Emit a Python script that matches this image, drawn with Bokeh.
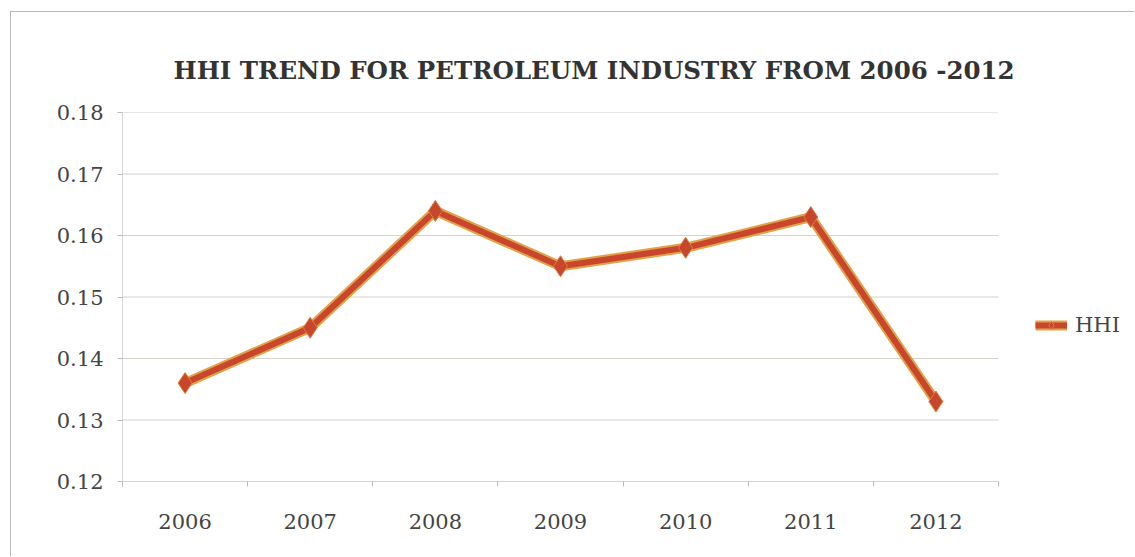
from bokeh.plotting import figure
from bokeh.models import FixedTicker, Range1d, Legend, LegendItem
from bokeh.embed import file_html
from bokeh.resources import INLINE

years = ["2006", "2007", "2008", "2009", "2010", "2011", "2012"]
hhi = [0.136, 0.145, 0.164, 0.155, 0.158, 0.163, 0.133]
y_ticks = [0.12, 0.13, 0.14, 0.15, 0.16, 0.17, 0.18]
title_text = "HHI TREND FOR PETROLEUM INDUSTRY FROM 2006 -2012"
series_name = "HHI"

xs = list(range(1, len(years) + 1))
FONT = "DejaVu Serif"

# plot area spans the category bands; the canvas extends to the right for the legend
x_lo, x_hi = 0.5, len(years) + 0.5
band_px = 876 / len(years)
x_view_end = x_hi + 137 / band_px

p = figure(width=1124, height=545, output_backend="svg", toolbar_location=None,
           x_range=Range1d(x_lo, x_view_end), y_range=Range1d(0.12, 0.18),
           min_border_left=111, min_border_right=0, min_border_top=100, min_border_bottom=76)
p.styles = {"margin-left": "10px", "margin-top": "11px",
            "border-left": "1px solid #b8b8b8", "border-top": "1px solid #b8b8b8"}
p.outline_line_color = None

p.title.text = title_text
p.title.text_font = FONT
p.title.text_font_size = "24.5px"
p.title.text_font_style = "bold"
p.title.text_color = "#333333"
p.title.align = "left"
p.title.offset = 51
p.title.standoff = 55

# y axis
p.yaxis.ticker = FixedTicker(ticks=y_ticks)
p.yaxis.major_label_overrides = {t: f"{t:.2f}" for t in y_ticks}
p.yaxis.axis_line_color = "#d4d4d4"
p.yaxis.major_tick_line_color = "#bbbbbb"
p.yaxis.major_tick_in = 0
p.yaxis.major_tick_out = 5
p.yaxis.minor_tick_line_color = None
p.yaxis.major_label_text_font = FONT
p.yaxis.major_label_text_font_size = "21px"
p.yaxis.major_label_text_color = "#444444"
p.yaxis.major_label_standoff = 14

# x axis
p.xaxis.ticker = FixedTicker(ticks=xs, minor_ticks=[x + 0.5 for x in [0] + xs])
p.xaxis.bounds = (x_lo, x_hi)
p.xaxis.major_label_overrides = {x: y for x, y in zip(xs, years)}
p.xaxis.axis_line_color = "#d4d4d4"
p.xaxis.major_tick_line_color = None
p.xaxis.minor_tick_line_color = "#bbbbbb"
p.xaxis.minor_tick_in = 0
p.xaxis.minor_tick_out = 5
p.xaxis.major_label_text_font = FONT
p.xaxis.major_label_text_font_size = "21px"
p.xaxis.major_label_text_color = "#444444"
p.xaxis.major_label_standoff = 26

p.xgrid.grid_line_color = None
p.ygrid.grid_line_color = None
p.segment(x0=[x_lo] * len(y_ticks), x1=[x_hi] * len(y_ticks), y0=y_ticks, y1=y_ticks,
          line_color="#d6d2cc", line_width=1)

under = p.line(xs, hhi, line_color="#e2a248", line_width=10, line_join="round")
main = p.line(xs, hhi, line_color="#c8462c", line_width=6, line_join="round")
pts = p.scatter(xs, hhi, marker="diamond", size=21, fill_color="#c8462c",
                line_color="#d9803a", line_width=1)

legend = Legend(items=[LegendItem(label=series_name, renderers=[under, main, pts])],
                location=(913, 144), orientation="vertical",
                border_line_color=None, background_fill_alpha=0,
                padding=0, margin=0, glyph_width=32, glyph_height=20,
                label_standoff=8, label_text_font=FONT, label_text_font_size="21px",
                label_text_color="#444444")
p.add_layout(legend)

open("out.html", "w").write(file_html(p, INLINE))
